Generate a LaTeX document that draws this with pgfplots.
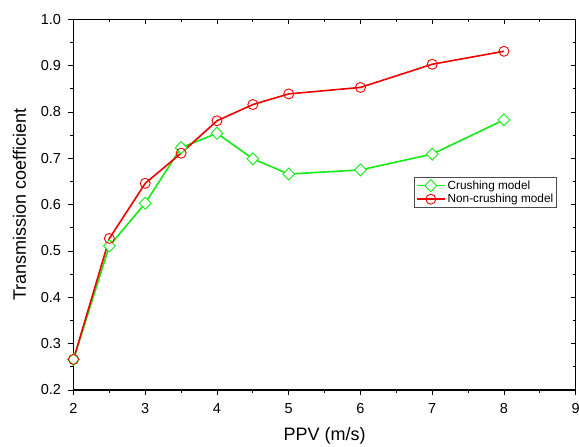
\documentclass[border=0pt]{standalone}
\usepackage{pgfplots}
\pgfplotsset{compat=1.18}
\usepackage{fontspec}
\setmainfont{Liberation Sans}
\definecolor{cgreen}{RGB}{20,235,20}
\definecolor{cred}{RGB}{240,0,0}
\begin{document}
\begin{tikzpicture}
\pgfplotsset{
  common/.style={
    width=502.2pt, height=370.7pt, scale only axis,
    xmin=2, xmax=9, ymin=0.2, ymax=1.0,
    xtick={2,3,4,5,6,7,8,9},
    ytick={0.2,0.3,0.4,0.5,0.6,0.7,0.8,0.9,1.0},
    minor x tick num=1, minor y tick num=1,
    major tick length=5pt, minor tick length=3pt,
    every tick/.style={black, line width=0.9pt},
    axis line style={black, line width=1.2pt},
    /pgf/number format/assume math mode=true,
  }
}
\begin{axis}[common,
  tick align=outside,
  xtick pos=bottom, ytick pos=left,
  y tick label style={/pgf/number format/fixed,/pgf/number format/fixed zerofill,/pgf/number format/precision=1, xshift=-4pt},
  x tick label style={yshift=-5pt},
  tick label style={font=\fontsize{14.5}{16}\selectfont},
  xlabel={PPV (m/s)}, ylabel={Transmission coefficient},
  label style={font=\fontsize{18}{20}\selectfont},
  xlabel style={yshift=-7pt},
  ylabel style={yshift=8pt},
  legend style={at={(axis cs:6.75,0.66)}, anchor=north west, draw=black!70, line width=0.5pt,
    font=\fontsize{11.8}{13}\selectfont, inner sep=1.5pt, row sep=-0.5pt,
    /tikz/every even column/.append style={column sep=1pt}},
  legend cell align=left,
  legend image code/.code={\draw[mark repeat=2,mark phase=2] plot coordinates {(0pt,0pt) (14pt,0pt) (28pt,0pt)};},
]
\addplot[cgreen, line width=1.6pt, mark=diamond*, mark size=6pt,
  mark options={fill=white, line width=0.9pt, xscale=1.3}] coordinates {
 (2,0.266) (2.5,0.511) (3,0.603) (3.5,0.723) (4,0.754) (4.5,0.699)
 (5,0.666) (6,0.675) (7,0.709) (8,0.783)};
\addlegendentry{Crushing model}
\addplot[cred, line width=1.6pt, mark=o, mark size=5pt,
  mark options={fill=white, line width=0.9pt}] coordinates {
 (2,0.266) (2.5,0.527) (3,0.646) (3.5,0.711) (4,0.781) (4.5,0.816)
 (5,0.839) (6,0.853) (7,0.903) (8,0.931)};
\addlegendentry{Non-crushing model}
\end{axis}
\begin{axis}[common,
  tick align=inside,
  xtick pos=top, ytick pos=right,
  xticklabels={}, yticklabels={},
  axis line style={draw=none},
]
\end{axis}
\pgfresetboundingbox
\path (0,0) ++(-73.5pt,-57pt) rectangle (505.5pt,390pt);
\end{tikzpicture}
\end{document}
